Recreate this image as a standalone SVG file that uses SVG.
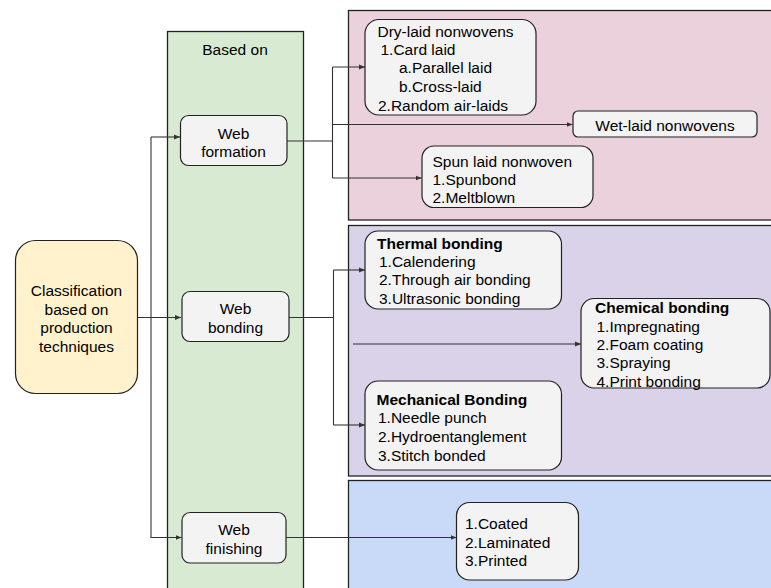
<svg xmlns="http://www.w3.org/2000/svg" width="771" height="588" viewBox="0 0 771 588">
<defs>
<style>
text{font-family:"Liberation Sans",Arial,sans-serif;font-size:15.5px;fill:#000}
.c{text-anchor:middle}
.b{font-weight:bold}
.panel{stroke:#222;stroke-width:1.3}
.node{fill:#f3f3f3;stroke:#222;stroke-width:1.2}
.edge{fill:none;stroke:#333;stroke-width:1.1}
</style>
<marker id="ah" markerWidth="7" markerHeight="6" refX="6" refY="3" orient="auto" markerUnits="userSpaceOnUse">
<path d="M0,0.5 L6,3 L0,5.5 Z" fill="#333"/>
</marker>
</defs>
<rect width="771" height="588" fill="#fff"/>
<g id="panels">
<rect class="panel" x="167.5" y="31.5" width="136" height="570" fill="#d9ead3"/>
<rect class="panel" x="348.5" y="10.5" width="430" height="209.5" fill="#ead1dc"/>
<rect class="panel" x="348.5" y="225.5" width="430" height="250.5" fill="#d9d2e9"/>
<rect class="panel" x="348.5" y="480.5" width="430" height="120" fill="#c9daf8"/>
<text class="c" x="235" y="54.5">Based on</text>
</g>
<g id="connectors">
<path class="edge" d="M137,317.5 H181" marker-end="url(#ah)"/>
<path class="edge" d="M151,317.5 V137" />
<path class="edge" d="M151,137 H180" marker-end="url(#ah)"/>
<path class="edge" d="M151,317.5 V537.5 H181.5" marker-end="url(#ah)"/>
<path class="edge" d="M287,141 H332.5"/>
<path class="edge" d="M332.5,67 V178"/>
<path class="edge" d="M332.5,67 H365" marker-end="url(#ah)"/>
<path class="edge" d="M332.5,124.5 H572.5" marker-end="url(#ah)"/>
<path class="edge" d="M332.5,178 H421.5" marker-end="url(#ah)"/>
<path class="edge" d="M289,317.5 H333.5"/>
<path class="edge" d="M333.5,270 V425"/>
<path class="edge" d="M333.5,270 H365" marker-end="url(#ah)"/>
<path class="edge" d="M333.5,425 H365" marker-end="url(#ah)"/>
<path class="edge" d="M353,344 H581" marker-end="url(#ah)"/>
<path class="edge" d="M286,537.5 H456.5" marker-end="url(#ah)"/>
</g>
<g id="classification">
<rect x="15.5" y="240.5" width="122" height="153" rx="20" fill="#fff2cc" stroke="#222" stroke-width="1.2"/>
<text class="c" x="76.5" y="295.5">Classification</text>
<text class="c" x="76.5" y="314.5">based on</text>
<text class="c" x="76.5" y="333">production</text>
<text class="c" x="76.5" y="351.5">techniques</text>
</g>
<g id="web-formation">
<rect class="node" x="180.5" y="115.5" width="106.5" height="50" rx="8"/>
<text class="c" x="233.5" y="138.5">Web</text>
<text class="c" x="233.5" y="157">formation</text>
</g>
<g id="web-bonding">
<rect class="node" x="182" y="291.5" width="107" height="50" rx="8"/>
<text class="c" x="235.5" y="313.5">Web</text>
<text class="c" x="235.5" y="332.5">bonding</text>
</g>
<g id="web-finishing">
<rect class="node" x="182" y="512.5" width="104" height="50.5" rx="8"/>
<text class="c" x="234" y="535">Web</text>
<text class="c" x="234" y="554">finishing</text>
</g>
<g id="dry-laid">
<rect class="node" x="365" y="19.5" width="171" height="95.5" rx="14"/>
<text x="377.5" y="36.5">Dry-laid nonwovens</text>
<text x="380.5" y="54.5">1.Card laid</text>
<text x="399" y="73">a.Parallel laid</text>
<text x="399" y="91.5">b.Cross-laid</text>
<text x="378" y="110.5">2.Random air-laids</text>
</g>
<g id="wet-laid">
<rect class="node" x="573" y="111" width="184" height="26" rx="5"/>
<text class="c" x="665" y="131">Wet-laid nonwovens</text>
</g>
<g id="spun-laid">
<rect class="node" x="422" y="146" width="171" height="61.5" rx="12"/>
<text x="432.5" y="166.5">Spun laid nonwoven</text>
<text x="432.5" y="184.5">1.Spunbond</text>
<text x="432.5" y="202.5">2.Meltblown</text>
</g>
<g id="thermal">
<rect class="node" x="365" y="231" width="196.5" height="78" rx="13"/>
<text class="b" x="377" y="248.5">Thermal bonding</text>
<text x="379" y="266.5">1.Calendering</text>
<text x="379" y="285">2.Through air bonding</text>
<text x="379" y="303.5">3.Ultrasonic bonding</text>
</g>
<g id="chemical">
<rect class="node" x="581" y="298.5" width="189" height="89.5" rx="13"/>
<text class="b" x="595" y="312.5">Chemical bonding</text>
<text x="596.5" y="331.5">1.Impregnating</text>
<text x="596.5" y="349.5">2.Foam coating</text>
<text x="596.5" y="368">3.Spraying</text>
<text x="596.5" y="387">4.Print bonding</text>
</g>
<g id="mechanical">
<rect class="node" x="365" y="381" width="196.5" height="89" rx="13"/>
<text class="b" x="376.5" y="404.5">Mechanical Bonding</text>
<text x="378" y="423">1.Needle punch</text>
<text x="378" y="442">2.Hydroentanglement</text>
<text x="378" y="460.5">3.Stitch bonded</text>
</g>
<g id="finishing-types">
<rect class="node" x="456.5" y="502.5" width="122" height="77.5" rx="13"/>
<text x="465" y="528.5">1.Coated</text>
<text x="465" y="547.5">2.Laminated</text>
<text x="465" y="565.5">3.Printed</text>
</g>
</svg>
